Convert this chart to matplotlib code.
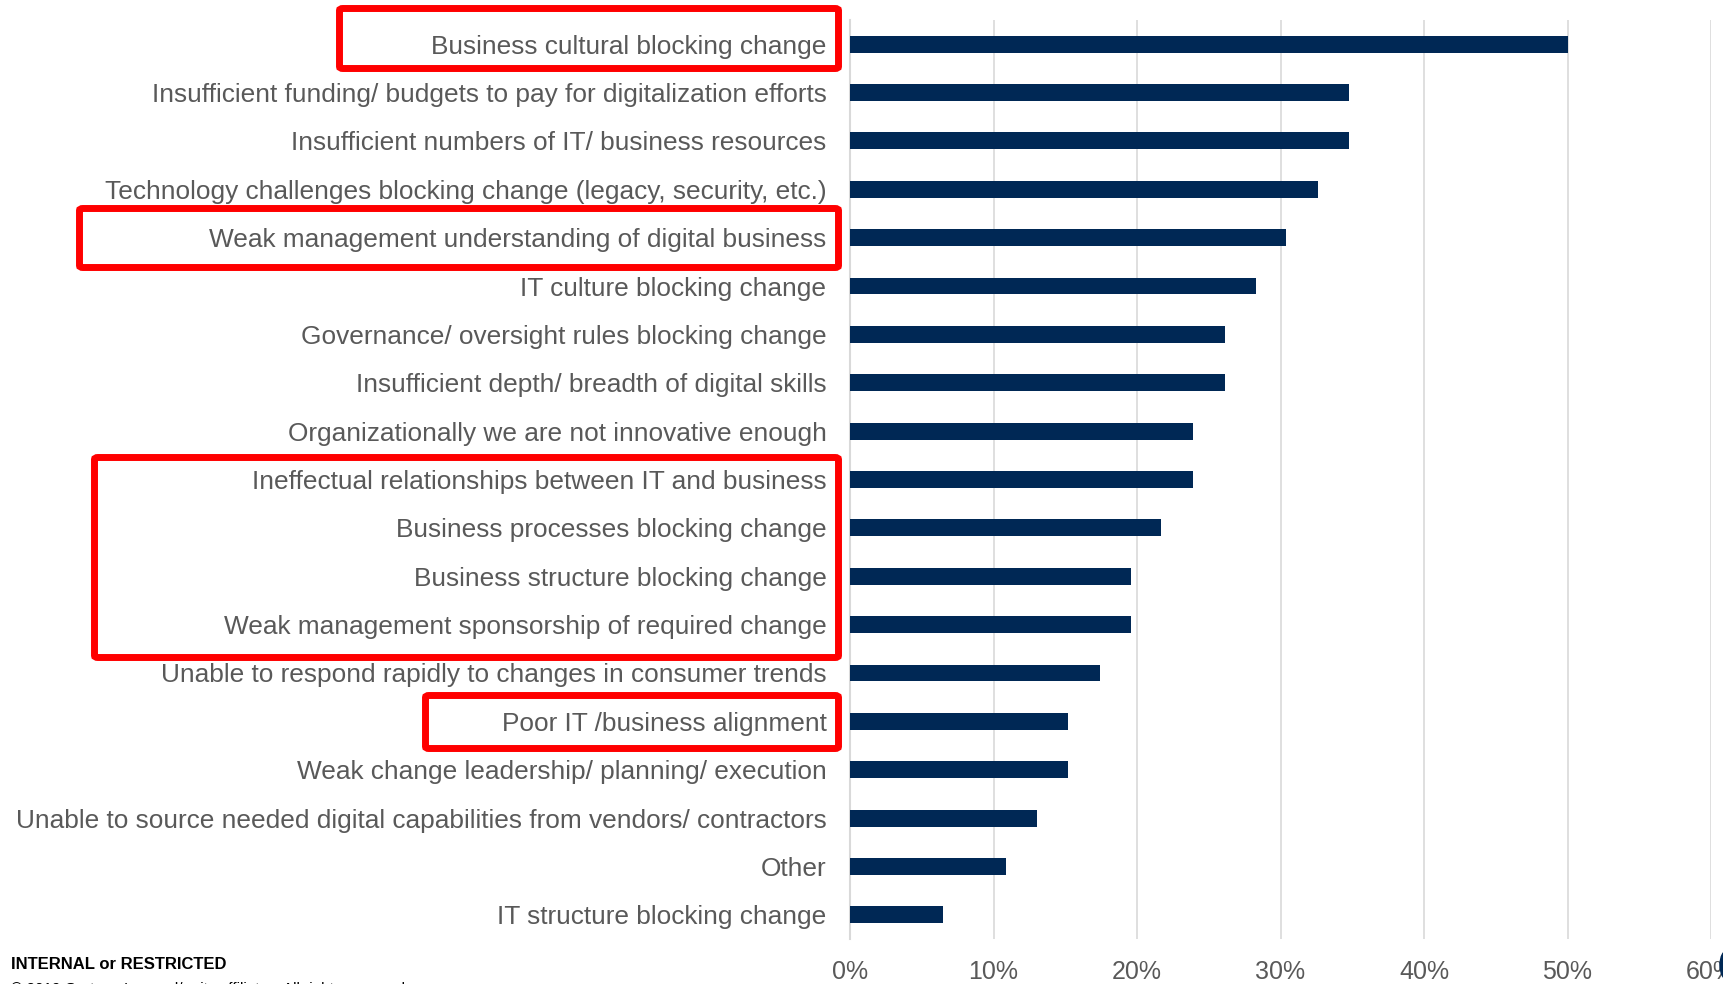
import matplotlib
matplotlib.use("Agg")
import matplotlib.pyplot as plt
from matplotlib.patches import FancyBboxPatch, Ellipse
from matplotlib.ticker import PercentFormatter

categories = [
    "Business cultural blocking change",
    "Insufficient funding/ budgets to pay for digitalization efforts",
    "Insufficient numbers of IT/ business resources",
    "Technology challenges blocking change (legacy, security, etc.)",
    "Weak management understanding of digital business",
    "IT culture blocking change",
    "Governance/ oversight rules blocking change",
    "Insufficient depth/ breadth of digital skills",
    "Organizationally we are not innovative enough",
    "Ineffectual relationships between IT and business",
    "Business processes blocking change",
    "Business structure blocking change",
    "Weak management sponsorship of required change",
    "Unable to respond rapidly to changes in consumer trends",
    "Poor IT /business alignment",
    "Weak change leadership/ planning/ execution",
    "Unable to source needed digital capabilities from vendors/ contractors",
    "Other",
    "IT structure blocking change",
]
values = [50.0, 34.8, 34.8, 32.6, 30.4, 28.3, 26.1, 26.1, 23.9, 23.9,
          21.7, 19.6, 19.6, 17.4, 15.2, 15.2, 13.0, 10.9, 6.5]
x_ticks = [0, 10, 20, 30, 40, 50, 60]

W, H = 1723, 984
plt.rcParams['font.family'] = ['Liberation Sans', 'DejaVu Sans']
fig = plt.figure(figsize=(W / 100, H / 100), dpi=100)
ax_left, ax_right, ax_top, ax_bot = 850, 1711, 20, 939
ax = fig.add_axes([ax_left / W, 1 - ax_bot / H, (ax_right - ax_left) / W, (ax_bot - ax_top) / H])

ypos = list(range(len(categories)))
ax.barh(ypos, values, height=0.35, color='#002855', zorder=3)
ax.set_ylim(len(categories) - 0.5, -0.5)
ax.set_xlim(0, 60)
ax.set_yticks(ypos)
ax.set_yticklabels(categories)
ax.set_xticks(x_ticks)
ax.xaxis.set_major_formatter(PercentFormatter(decimals=0))
ax.tick_params(axis='y', length=0, pad=17, labelsize=18.9, labelcolor='#595959')
ax.tick_params(axis='x', length=0, pad=15, labelsize=18, labelcolor='#595959')
ax.grid(axis='x', color='#D9D9D9', linewidth=1.2, zorder=0)
for s in ['top', 'right', 'bottom']:
    ax.spines[s].set_visible(False)
ax.spines['left'].set_color('#D9D9D9')
ax.spines['left'].set_linewidth(1.5)
for lbl in ax.get_xticklabels():
    lbl.set_clip_on(False)

# red highlight boxes (pixel coords: left, top, right, bottom of line centers)
boxes = [(339.5, 8.5, 838.5, 68.5), (79.5, 208.5, 838.5, 267.5),
         (94.5, 457.5, 838.5, 657.5), (425.5, 695.5, 838.5, 748.5)]
for l, t, r, b in boxes:
    p = FancyBboxPatch((l / W, 1 - b / H), (r - l) / W, (b - t) / H,
                       boxstyle="round,pad=0,rounding_size=0.002",
                       transform=fig.transFigure, fill=False,
                       edgecolor='#FF0000', linewidth=5.0, zorder=10)
    fig.add_artist(p)

fig.text(11 / W, 1 - 969 / H, "INTERNAL or RESTRICTED", fontsize=12,
         fontweight='bold', color='black', ha='left', va='baseline')
fig.text(11 / W, 1 - 982 / H, "\u00a9 2019 Gartner, Inc. and/or its affiliates. All rights reserved.",
         fontsize=11, color='black', ha='left', va='top')
fig.add_artist(Ellipse((1728 / W, 1 - 965 / H), 16 / W, 30 / H,
                       transform=fig.transFigure, color='#002855'))

fig.savefig("out.png", dpi=100)
